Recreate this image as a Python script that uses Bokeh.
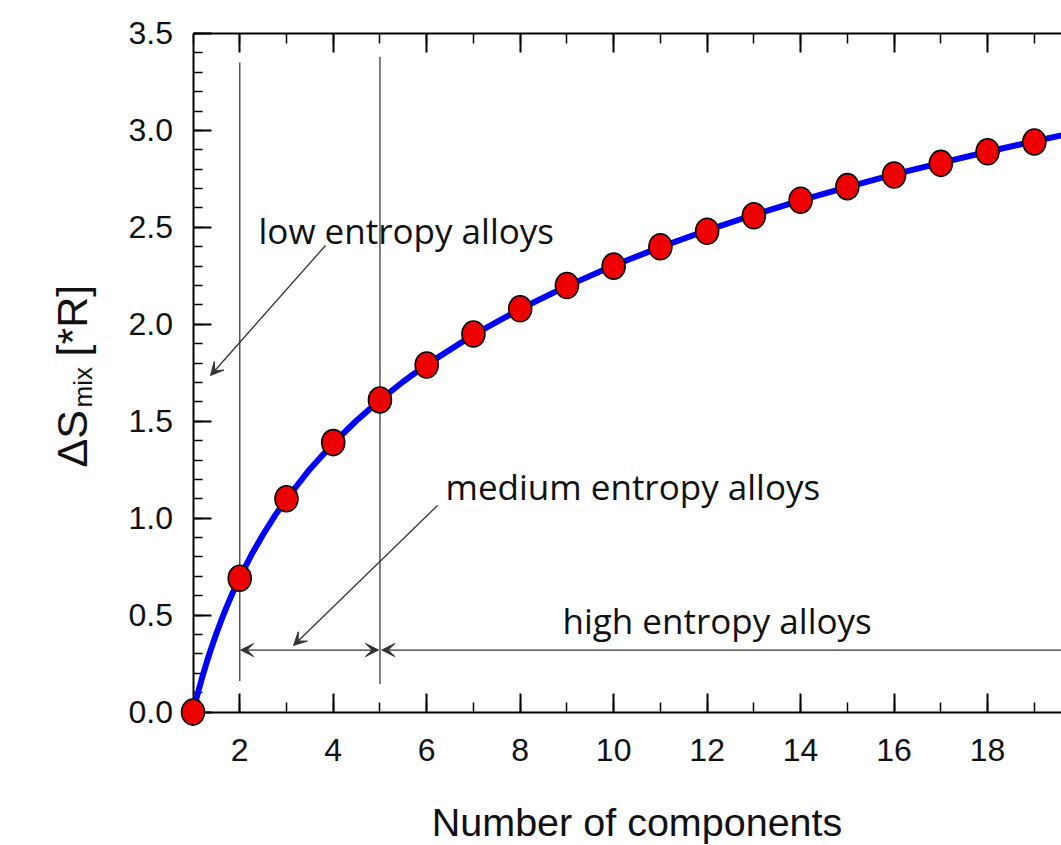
import math
from bokeh.plotting import figure
from bokeh.models import (Range1d, LinearAxis, SingleIntervalTicker, PrintfTickFormatter,
                          CustomJSTickFormatter, Label, Arrow, VeeHead, ColumnDataSource)
from bokeh.embed import file_html
from bokeh.resources import INLINE

# ---------------- data ----------------
components = [1, 2, 3, 4, 5, 6, 7, 8, 9, 10, 11, 12, 13, 14, 15, 16, 17, 18, 19, 20]
entropy = [0.00, 0.69, 1.10, 1.39, 1.61, 1.79, 1.95, 2.08, 2.20, 2.30,
           2.40, 2.48, 2.56, 2.64, 2.71, 2.77, 2.83, 2.89, 2.94, 3.00]

curve_x = [1.0, 1.05, 1.1, 1.2, 1.3, 1.4, 1.5, 1.6, 1.7, 1.8, 1.9, 2.0, 2.25, 2.5, 2.75,
           3.0, 3.5, 4.0, 4.5, 5.0, 5.5, 6.0, 7.0, 8.0, 9.0, 10.0, 11.0, 12.0, 13.0,
           14.0, 15.0, 16.0, 17.0, 18.0, 19.0, 20.0, 21.0]
curve_y = [0.000, 0.049, 0.095, 0.182, 0.262, 0.336, 0.405, 0.470, 0.531, 0.588, 0.642,
           0.693, 0.811, 0.916, 1.012, 1.099, 1.253, 1.386, 1.504, 1.609, 1.705, 1.792,
           1.946, 2.079, 2.197, 2.303, 2.398, 2.485, 2.565, 2.639, 2.708, 2.773, 2.833,
           2.890, 2.944, 2.996, 3.045]

boundary_x = [2, 5]
boundary_y0 = [0.16, 0.145]
boundary_y1 = [3.35, 3.38]

range_y = 0.32          # level of the range arrows
low_limit = 2           # components
medium_limit = 5        # components

x_tick_interval = 2
y_tick_interval = 0.5
x_min, x_max, y_min, y_max = 1, 20, 0, 3.5

# ---------------- figure geometry ----------------
W, H = 1061, 845
PX_X1, PX_PER_X = 192.5, 46.74      # pixel of x=1, pixels per component
PX_Y0, PX_PER_Y = 711.6, 193.89     # pixel of y=0, pixels per unit
X0 = 1 - PX_X1 / PX_PER_X
X1 = 1 + (W - PX_X1) / PX_PER_X
Y0 = -(H - PX_Y0) / PX_PER_Y
Y1 = PX_Y0 / PX_PER_Y


def px2x(px):
    return X0 + px / PX_PER_X


def px2y(py):
    return (PX_Y0 - py) / PX_PER_Y


p = figure(width=W, height=H, x_range=Range1d(X0, X1), y_range=Range1d(Y0, Y1),
           x_axis_type=None, y_axis_type=None, output_backend="svg",
           toolbar_location=None, min_border=0, min_border_left=0, min_border_right=0,
           min_border_top=0, min_border_bottom=0)
p.outline_line_color = None
p.background_fill_color = "white"
p.border_fill_color = "white"

# boundaries
p.segment(x0=boundary_x, y0=boundary_y0, x1=boundary_x, y1=boundary_y1,
          line_color="#555555", line_width=1.5)

# curve and points
line_r = p.line(curve_x, curve_y, line_color="#0000ff", line_width=6)
line_r.level = "overlay"
src = ColumnDataSource(dict(x=components, y=entropy))
pts = p.ellipse(x="x", y="y", width=23, height=26, width_units="screen",
                height_units="screen", source=src, fill_color="#ee0000",
                line_color="black", line_width=1.6)
pts.level = "overlay"

# ---------------- axes ----------------
FONT = "Liberation Sans"


def style_axis(ax, major_in, minor_in):
    ax.axis_line_color = "black"
    ax.axis_line_width = 2
    ax.major_tick_in = major_in
    ax.major_tick_out = 0
    ax.minor_tick_in = minor_in
    ax.minor_tick_out = 0
    ax.major_tick_line_color = "black"
    ax.major_tick_line_width = 2
    ax.minor_tick_line_color = "black"
    ax.minor_tick_line_width = 1.5
    ax.major_label_text_font = FONT
    ax.major_label_text_font_size = "32px"
    ax.major_label_text_color = "#111111"


xaxis = LinearAxis(ticker=SingleIntervalTicker(interval=x_tick_interval, num_minor_ticks=2),
                   fixed_location=y_min, bounds=(x_min, x_max))
style_axis(xaxis, 19, 10)
xaxis.major_label_standoff = 27
p.add_layout(xaxis, "below")

topaxis = LinearAxis(ticker=SingleIntervalTicker(interval=x_tick_interval, num_minor_ticks=2),
                     fixed_location=y_max, bounds=(x_min, x_max),
                     formatter=CustomJSTickFormatter(code="return ''"))
style_axis(topaxis, 19, 10)
topaxis.major_label_standoff = 0
p.add_layout(topaxis, "above")

yaxis = LinearAxis(ticker=SingleIntervalTicker(interval=y_tick_interval, num_minor_ticks=5),
                   fixed_location=x_min, bounds=(y_min, y_max),
                   formatter=PrintfTickFormatter(format="%.1f"))
style_axis(yaxis, 18, 9)
yaxis.major_label_standoff = 20
p.add_layout(yaxis, "left")

# x axis title, centred under the full 1..20 axis
p.add_layout(Label(x=(x_min + x_max) / 2, y=px2y(821), text="Number of components",
                   text_font=FONT, text_font_size="39.5px", text_color="#111111",
                   text_align="center", text_baseline="alphabetic"))

# y axis title: ΔS_mix [*R]
p.add_layout(Label(x=px2x(71), y=px2y(467), text="ΔS", angle=math.pi / 2,
                   text_font=FONT, text_font_size="43px", text_color="#111111",
                   text_align="left", text_baseline="alphabetic"))
p.add_layout(Label(x=px2x(82), y=px2y(407), text="mix", angle=math.pi / 2,
                   text_font=FONT, text_font_size="26px", text_color="#111111",
                   text_align="left", text_baseline="alphabetic"))
p.add_layout(Label(x=px2x(71), y=px2y(356), text="[*R]", angle=math.pi / 2,
                   text_font=FONT, text_font_size="43px", text_color="#111111",
                   text_align="left", text_baseline="alphabetic"))

# ---------------- annotations ----------------
AFONT = "Open Sans"
for txt, lx, ly in [("low entropy alloys", 258, 230),
                    ("medium entropy alloys", 445, 486),
                    ("high entropy alloys", 562, 620)]:
    p.add_layout(Label(x=px2x(lx), y=px2y(ly), text=txt, text_font=AFONT,
                       text_font_size="35px", text_color="#111111",
                       text_align="left", text_baseline="alphabetic"))

AC = "#333333"


def head():
    return VeeHead(size=13, fill_color=AC, line_color=AC, line_width=1)


# pointer arrows
p.add_layout(Arrow(x_start=px2x(325), y_start=px2y(245), x_end=px2x(210), y_end=px2y(375),
                   end=head(), line_color=AC, line_width=1.3))
p.add_layout(Arrow(x_start=px2x(437), y_start=px2y(505), x_end=px2x(293), y_end=px2y(645),
                   end=head(), line_color=AC, line_width=1.3))
# range arrows
p.add_layout(Arrow(x_start=low_limit + 0.02, y_start=range_y, x_end=medium_limit - 0.03,
                   y_end=range_y, start=head(), end=head(), line_color=AC, line_width=1.3))
p.add_layout(Arrow(x_start=22, y_start=range_y, x_end=medium_limit + 0.04, y_end=range_y,
                   end=head(), line_color=AC, line_width=1.3))

open("out.html", "w").write(file_html(p, INLINE))
